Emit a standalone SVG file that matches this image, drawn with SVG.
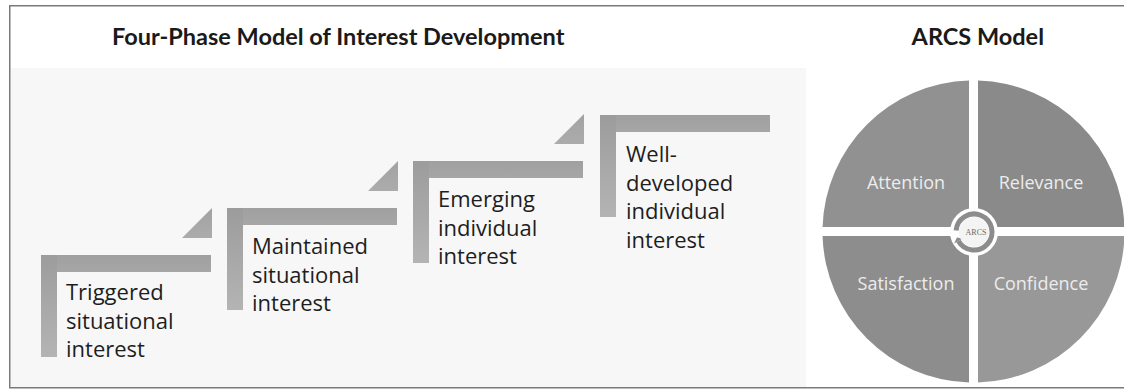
<svg xmlns="http://www.w3.org/2000/svg" width="1124" height="390" viewBox="0 0 1124 390">
  <defs>
    <linearGradient id="gVert" x1="0" y1="0" x2="0" y2="1">
      <stop offset="0" stop-color="#9c9c9c"/>
      <stop offset="1" stop-color="#b4b4b4"/>
    </linearGradient>
    <linearGradient id="gHorz" x1="0" y1="0" x2="0" y2="1">
      <stop offset="0" stop-color="#a0a0a0"/>
      <stop offset="1" stop-color="#a6a6a6"/>
    </linearGradient>
    <linearGradient id="gTri" x1="0" y1="0" x2="0" y2="1">
      <stop offset="0" stop-color="#a2a2a2"/>
      <stop offset="1" stop-color="#acacac"/>
    </linearGradient>
    <!-- one step of the staircase: L-shaped bracket -->
    <g id="bracket">
      <rect x="0" y="0" width="170" height="17" fill="url(#gHorz)"/>
      <rect x="0" y="0" width="16" height="102" fill="url(#gVert)"/>
    </g>
    <!-- small wedge leading up to the next step -->
    <polygon id="wedge" points="141,-17 171,-47 171,-17" fill="url(#gTri)"/>
  </defs>
  <style>
    .title { font-family: Lato, "Open Sans", "Liberation Sans", sans-serif; font-weight: 700; font-size: 23.5px; fill: #1a1a1a; }
    .step { font-family: "Open Sans", "Noto Sans", "Liberation Sans", sans-serif; font-size: 22px; fill: #1e1e1e; }
    .quad { font-family: "Open Sans", "Noto Sans", "Liberation Sans", sans-serif; font-size: 18px; fill: #ececec; text-anchor: middle; }
    .emblem { font-family: "Liberation Serif", serif; font-size: 8px; fill: #6a6a6a; text-anchor: middle; }
  </style>

  <!-- page and frame -->
  <rect x="0" y="0" width="1124" height="390" fill="#ffffff"/>
  <rect x="11" y="68" width="795" height="319" fill="#f7f7f7"/>
  <rect x="9.75" y="5.75" width="1130" height="382" fill="none" stroke="#7a7a7a" stroke-width="1.5"/>

  <!-- headings -->
  <text class="title" x="112" y="45">Four-Phase Model of Interest Development</text>
  <text class="title" x="1044" y="45" text-anchor="end">ARCS Model</text>

  <!-- four-phase staircase -->
  <g id="phase-triggered" transform="translate(41,255)">
    <use href="#bracket"/>
    <use href="#wedge"/>
    <text class="step" x="25" y="45">
      <tspan x="25">Triggered</tspan>
      <tspan x="25" dy="28.5">situational</tspan>
      <tspan x="25" dy="28.5">interest</tspan>
    </text>
  </g>
  <g id="phase-maintained" transform="translate(227,208)">
    <use href="#bracket"/>
    <use href="#wedge"/>
    <text class="step" x="25" y="46">
      <tspan x="25">Maintained</tspan>
      <tspan x="25" dy="28.5">situational</tspan>
      <tspan x="25" dy="28.5">interest</tspan>
    </text>
  </g>
  <g id="phase-emerging" transform="translate(413,161)">
    <use href="#bracket"/>
    <use href="#wedge"/>
    <text class="step" x="25" y="46">
      <tspan x="25">Emerging</tspan>
      <tspan x="25" dy="28.5">individual</tspan>
      <tspan x="25" dy="28.5">interest</tspan>
    </text>
  </g>
  <g id="phase-well-developed" transform="translate(600,115)">
    <use href="#bracket"/>
    <text class="step" x="26" y="47">
      <tspan x="26">Well-</tspan>
      <tspan x="26" dy="28.5">developed</tspan>
      <tspan x="26" dy="28.5">individual</tspan>
      <tspan x="26" dy="28.5">interest</tspan>
    </text>
  </g>

  <!-- ARCS wheel: four quadrants split by a white cross -->
  <g id="arcs-attention">
    <path d="M969,227 L969,80.57 A151,151 0 0 0 822.57,227 Z" fill="#919191"/>
    <text class="quad" x="906" y="189">Attention</text>
  </g>
  <g id="arcs-relevance">
    <path d="M978,227 L978,80.57 A151,151 0 0 1 1124.43,227 Z" fill="#8a8a8a"/>
    <text class="quad" x="1041" y="189">Relevance</text>
  </g>
  <g id="arcs-satisfaction">
    <path d="M969,236 L822.57,236 A151,151 0 0 0 969,382.43 Z" fill="#8d8d8d"/>
    <text class="quad" x="906" y="290">Satisfaction</text>
  </g>
  <g id="arcs-confidence">
    <path d="M978,236 L978,382.43 A151,151 0 0 0 1124.43,236 Z" fill="#989898"/>
    <text class="quad" x="1041" y="290">Confidence</text>
  </g>

  <!-- hub with circular arrow -->
  <g id="arcs-hub">
    <circle cx="974" cy="232" r="24" fill="#ffffff"/>
    <path d="M956.07,230.43 A18,18 0 1 1 958.41,241" fill="none" stroke="#8c8c8c" stroke-width="5"/>
    <polygon points="956.9,237.6 962.7,238.5 954.1,243.5" fill="#8c8c8c"/>
    <circle cx="974" cy="232" r="15" fill="#f4f4f4"/>
    <text class="emblem" x="976" y="235">ARCS</text>
  </g>
</svg>
